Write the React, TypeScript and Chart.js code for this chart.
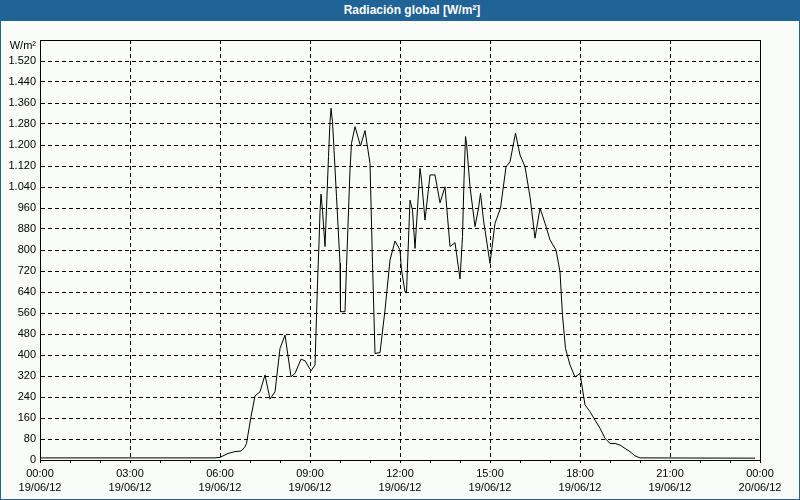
import React, { useEffect, useRef } from 'react';
import { Chart, registerables } from 'chart.js';

Chart.register(...registerables);

// time of day in minutes since 19/06/12 00:00
const timeMinutes = [
  0, 350, 360, 376, 390, 402, 410, 413, 422, 430, 440, 450, 460, 470, 480, 490, 502, 510, 522, 530,
  542, 550, 555, 558, 560, 562, 565, 570, 577, 580, 582, 585, 593, 600, 601, 610, 613, 620, 623, 630,
  641, 650, 660, 665, 670, 680, 690, 700, 710, 720, 723, 730, 733, 740, 745, 750, 760, 763, 770, 780,
  790, 800, 810, 820, 830, 840, 845, 848, 851, 853, 860, 870, 877, 881, 887, 900, 910, 921, 932, 940,
  951, 960, 970, 980, 990, 1000, 1010, 1020, 1032, 1040, 1045, 1051, 1060, 1070, 1080, 1090, 1100, 1110, 1120, 1130,
  1140, 1150, 1160, 1170, 1180, 1190, 1200, 1430,
];

// global radiation W/m²
const radiation = [
  8, 8, 10, 25, 32, 34, 50, 63, 165, 244, 260, 324, 232, 260, 425, 476, 317, 330, 384, 378,
  340, 362, 673, 826, 946, 1013, 952, 813, 1156, 1289, 1340, 1289, 1003, 749, 565, 565, 737, 1105, 1207, 1270,
  1196, 1255, 1130, 749, 406, 409, 571, 762, 834, 800, 724, 641, 641, 990, 952, 806, 1111, 1067, 914, 1086,
  1086, 980, 1041, 813, 828, 690, 851, 1067, 1232, 1207, 1041, 889, 959, 1016, 914, 749, 902, 959, 1117, 1136,
  1245, 1162, 1117, 1003, 845, 959, 902, 838, 800, 717, 550, 425, 362, 316, 330, 210, 184, 152, 121, 83,
  63, 63, 57, 44, 32, 16, 8, 7,
];

const xTickTimes = ['00:00', '03:00', '06:00', '09:00', '12:00', '15:00', '18:00', '21:00', '00:00'];
const xTickDates = ['19/06/12', '19/06/12', '19/06/12', '19/06/12', '19/06/12', '19/06/12', '19/06/12', '19/06/12', '20/06/12'];

const TITLE = 'Radiación global [W/m²]';
const UNIT = 'W/m²';
const Y_MAX = 1600;
const Y_STEP = 80;
const X_MAX = 1440;
const X_MINOR = 60;
const X_MAJOR = 180;

const BLUE = '#1f6397';
const BG = '#f9fcf9';
const FONT = '"Liberation Sans", Arial, sans-serif';

function fmtThousands(v: number): string {
  return String(v).replace(/\B(?=(\d{3})+(?!\d))/g, '.');
}

export default function App() {
  const ref = useRef<HTMLCanvasElement>(null);

  useEffect(() => {
    if (!ref.current) return;
    const boxPlugin = {
      id: 'boxPlugin',
      afterDraw(chart: any) {
        const { ctx, chartArea } = chart;
        const l = Math.round(chartArea.left);
        const t = Math.round(chartArea.top);
        const r = Math.round(chartArea.right);
        const b = Math.round(chartArea.bottom);
        ctx.save();
        ctx.strokeStyle = '#000';
        ctx.lineWidth = 1;
        ctx.setLineDash([]);
        ctx.strokeRect(l + 0.5, t + 0.5, r - l, b - t);
        ctx.fillStyle = '#000';
        ctx.font = '11px ' + FONT;
        ctx.textAlign = 'right';
        ctx.textBaseline = 'middle';
        ctx.fillText(UNIT, l - 4, t + 6);
        ctx.restore();
      },
    };

    const chart = new Chart(ref.current, {
      type: 'line',
      data: {
        datasets: [
          {
            data: timeMinutes.map((t, i) => ({ x: t, y: radiation[i] })),
            borderColor: '#000',
            borderWidth: 1,
            pointRadius: 0,
            tension: 0,
            fill: false,
          },
        ],
      },
      options: {
        animation: false,
        responsive: false,
        maintainAspectRatio: false,
        layout: { padding: { left: 0, top: 19, right: 39, bottom: 0 } },
        plugins: {
          legend: { display: false },
          tooltip: { enabled: false },
          title: { display: false },
        },
        scales: {
          x: {
            type: 'linear',
            min: 0,
            max: X_MAX,
            afterFit: (s: any) => {
              s.height = 39;
            },
            ticks: {
              stepSize: X_MINOR,
              autoSkip: false,
              maxRotation: 0,
              minRotation: 0,
              padding: 3,
              color: '#000',
              font: { family: FONT, size: 11, lineHeight: 1.36 },
              callback: (v: any) => {
                const n = Number(v);
                if (n % X_MAJOR !== 0) return '';
                const i = n / X_MAJOR;
                return [xTickTimes[i], xTickDates[i]];
              },
            },
            grid: {
              color: (ctx: any) =>
                ctx.tick && ctx.tick.value % X_MAJOR === 0 ? '#000' : 'rgba(0,0,0,0)',
              lineWidth: 1,
              tickColor: '#000',
              tickLength: 3,
              tickBorderDash: [],
              drawTicks: true,
            },
            border: { display: true, color: '#000', width: 1, dash: [4, 3] },
          },
          y: {
            type: 'linear',
            min: 0,
            max: Y_MAX,
            afterFit: (s: any) => {
              s.width = 39;
            },
            ticks: {
              stepSize: Y_STEP,
              autoSkip: false,
              padding: 4,
              color: '#000',
              font: { family: FONT, size: 11 },
              callback: (v: any) => (Number(v) === Y_MAX ? '' : fmtThousands(Number(v))),
            },
            grid: {
              color: '#000',
              lineWidth: 1,
              drawTicks: false,
            },
            border: { display: true, color: '#000', width: 1, dash: [4, 3] },
          },
        },
      },
      plugins: [boxPlugin],
    } as any);
    return () => chart.destroy();
  }, []);

  return (
    <div
      style={{
        position: 'absolute',
        left: 0,
        top: 0,
        width: 800,
        height: 500,
        boxSizing: 'border-box',
        borderLeft: `1px solid ${BLUE}`,
        borderRight: `1px solid ${BLUE}`,
        borderBottom: `1px solid ${BLUE}`,
        background: BG,
      }}
    >
      <div
        style={{
          height: 21,
          marginLeft: -1,
          marginRight: -1,
          background: BLUE,
          color: '#fff',
          fontFamily: FONT,
          fontWeight: 'bold',
          fontSize: 12,
          lineHeight: '21px',
          textAlign: 'center',
          paddingLeft: 24,
          boxSizing: 'border-box',
        }}
      >
        {TITLE}
      </div>
      <div style={{ position: 'relative', width: 798, height: 478 }}>
        <canvas ref={ref} width={798} height={478} style={{ display: 'block' }} />
      </div>
    </div>
  );
}
